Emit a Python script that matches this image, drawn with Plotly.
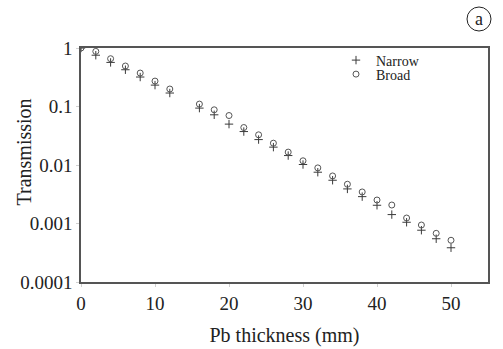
import plotly.graph_objects as go

thickness = [0, 2, 4, 6, 8, 10, 12, 16, 18, 20, 22, 24, 26, 28, 30, 32, 34, 36, 38, 40, 42, 44, 46, 48, 50]
narrow = [1.0, 0.753, 0.567, 0.425, 0.319, 0.232, 0.170, 0.0939, 0.0721, 0.0500, 0.0373, 0.0272, 0.0202,
          0.0145, 0.0102, 0.00753, 0.00549, 0.00390, 0.00288, 0.00205, 0.00142, 0.00105, 0.000768,
          0.000549, 0.000385]
broad = [1.0, 0.875, 0.656, 0.492, 0.373, 0.272, 0.199, 0.110, 0.0878, 0.0701, 0.0437, 0.0328, 0.0236,
         0.0166, 0.0118, 0.00892, 0.00650, 0.00469, 0.00346, 0.00252, 0.00207, 0.00124, 0.000942,
         0.000679, 0.000517]
y_tickvals = [1, 0.1, 0.01, 0.001, 0.0001]
y_ticktext = ["1", "0.1", "0.01", "0.001", "0.0001"]
x_tickvals = [0, 10, 20, 30, 40, 50]

FONT = "Liberation Serif"
INK = "#3a3a3a"
TXT = "#222222"

L, R, T, B = 81, 15, 48, 67
W, H = 503, 349
pw, ph = W - L - R, H - T - B


def px(xp):
    return (xp - L) / pw


def py(yp):
    return (H - B - yp) / ph


fig = go.Figure()
fig.add_trace(go.Scatter(
    x=thickness, y=narrow, mode="markers", name="Narrow", legend="legend",
    marker=dict(symbol="cross-thin-open", size=6, line=dict(width=1, color=INK), color=INK),
))
fig.add_trace(go.Scatter(
    x=thickness, y=broad, mode="markers", name="Broad", legend="legend2",
    marker=dict(symbol="circle-open", size=6, line=dict(width=1, color="#555555"), color="#555555"),
))

axis_common = dict(
    showline=True, linecolor="#555555", linewidth=1.5, mirror=True,
    showgrid=False, zeroline=False, automargin=False,
    ticks="outside", ticklen=3, tickcolor="#d0d0d0", tickwidth=1,
    tickfont=dict(family=FONT, size=19, color=TXT),
)

leg_common = dict(
    xanchor="left", yanchor="middle", bgcolor="rgba(0,0,0,0)",
    font=dict(family=FONT, size=14, color=TXT), itemwidth=30,
    borderwidth=0,
)

fig.update_layout(
    width=W, height=H,
    margin=dict(l=L, r=R, t=T, b=B, autoexpand=False),
    paper_bgcolor="white", plot_bgcolor="white",
    font=dict(family=FONT, color=TXT),
    showlegend=True,
    legend=dict(x=px(336), y=py(60.5), **leg_common),
    legend2=dict(x=px(336), y=py(74.5), **leg_common),
    xaxis=dict(
        range=[0, 55], tickvals=x_tickvals,
        title=dict(text="Pb thickness (mm)", font=dict(family=FONT, size=20, color=TXT)),
        **axis_common,
    ),
    yaxis=dict(
        type="log", range=[-4, 0], tickvals=y_tickvals, ticktext=y_ticktext,
        **axis_common,
    ),
)

# y-axis title placed as in the reference (tucked close to the tick labels)
fig.add_annotation(
    x=px(23.5), y=py(152), xref="paper", yref="paper", text="Transmission", showarrow=False,
    textangle=-90, font=dict(family=FONT, size=20, color=TXT), xanchor="center", yanchor="middle",
)

fig.add_annotation(
    x=px(479), y=py(19), xref="paper", yref="paper", text="a", showarrow=False,
    font=dict(family=FONT, size=18, color=TXT), xanchor="center", yanchor="middle",
)
fig.add_shape(
    type="circle", xref="paper", yref="paper",
    x0=px(467), x1=px(491), y0=py(31), y1=py(7), line=dict(color=TXT, width=1),
)

fig.write_html("out.html")
